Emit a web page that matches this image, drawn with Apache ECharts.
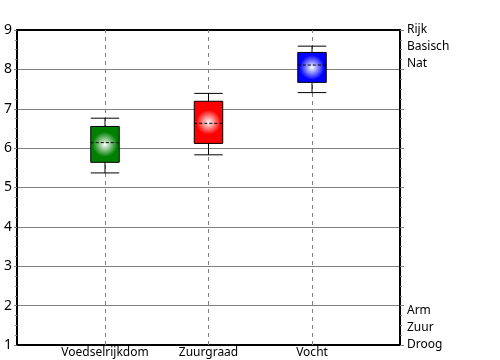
<!DOCTYPE html>
<html>
<head>
<meta charset="utf-8">
<script src="https://cdn.jsdelivr.net/npm/echarts@6/dist/echarts.min.js"></script>
<style>html,body{margin:0;padding:0;background:#fff}#c{width:500px;height:360px}</style>
</head>
<body>
<div id="c"></div>
<script>
const categories = ['Voedselrijkdom', 'Zuurgraad', 'Vocht'];
const categoryPos = [1, 2, 3];
const whiskerLow = [5.37, 5.83, 7.41];
const q1 = [5.64, 6.12, 7.67];
const median = [6.14, 6.63, 8.11];
const q3 = [6.55, 7.19, 8.43];
const whiskerHigh = [6.76, 7.39, 8.59];
const yTicks = [1, 2, 3, 4, 5, 6, 7, 8, 9];
const topRightLabels = ['Rijk', 'Basisch', 'Nat'];
const bottomRightLabels = ['Arm', 'Zuur', 'Droog'];

const boxColors = ['#008000', '#ff0000', '#0000ff'];
const FONT = 'Noto Sans';

const chart = echarts.init(document.getElementById('c'));

const boxData = categoryPos.map((x, i) => [x, whiskerLow[i], q1[i], median[i], q3[i], whiskerHigh[i]]);

function renderBox(params, api) {
  const x = api.value(0);
  const pLow = api.coord([x, api.value(1)]);
  const pQ1 = api.coord([x, api.value(2)]);
  const pMed = api.coord([x, api.value(3)]);
  const pQ3 = api.coord([x, api.value(4)]);
  const pHigh = api.coord([x, api.value(5)]);
  const w = api.size([0.275, 0])[0];
  const cx = pMed[0];
  const color = boxColors[params.dataIndex];
  const line = {stroke: '#000', lineWidth: 1};
  return {
    type: 'group',
    children: [
      {type: 'line', shape: {x1: cx, y1: pLow[1], x2: cx, y2: pQ1[1]}, style: line},
      {type: 'line', shape: {x1: cx, y1: pQ3[1], x2: cx, y2: pHigh[1]}, style: line},
      {type: 'line', shape: {x1: cx - w / 2, y1: pLow[1], x2: cx + w / 2, y2: pLow[1]}, style: line},
      {type: 'line', shape: {x1: cx - w / 2, y1: pHigh[1], x2: cx + w / 2, y2: pHigh[1]}, style: line},
      {type: 'rect', shape: {x: cx - w / 2, y: pQ3[1], width: w, height: pQ1[1] - pQ3[1]},
        style: {
          fill: new echarts.graphic.RadialGradient(0.5, 0.5, 0.6, [
            {offset: 0, color: '#ffffff'},
            {offset: 0.7, color: color},
            {offset: 1, color: color}
          ]),
          stroke: '#000', lineWidth: 1
        }},
      {type: 'line', shape: {x1: cx - w / 2, y1: pMed[1], x2: cx + w / 2, y2: pMed[1]},
        style: {stroke: '#000', lineWidth: 1, lineDash: [3, 2]}}
    ]
  };
}

const labelStyle = {fontFamily: FONT, fontSize: 14, color: '#000'};

chart.setOption({
  animation: false,
  grid: {left: 17, right: 100, top: 30, bottom: 15, outerBoundsMode: 'none', containLabel: false},
  xAxis: [{
    type: 'value', min: 0.15, max: 3.85,
    axisLine: {show: true, onZero: false, lineStyle: {color: '#000', width: 2}},
    axisTick: {show: false},
    splitLine: {show: false},
    axisLabel: {
      customValues: categoryPos, margin: 2,
      formatter: v => categories[categoryPos.indexOf(Math.round(v))] || '',
      ...labelStyle, fontSize: 12
    }
  }, {
    type: 'value', min: 0.15, max: 3.85, position: 'top',
    axisLine: {show: true, onZero: false, lineStyle: {color: '#000', width: 2}},
    axisTick: {show: false}, splitLine: {show: false}, axisLabel: {show: false}
  }],
  yAxis: [{
    type: 'value', min: 1, max: 9, interval: 1,
    axisLine: {show: true, onZero: false, lineStyle: {color: '#000', width: 2}},
    axisTick: {show: true, length: 3, lineStyle: {color: '#808080'}},
    minorTick: {show: true, splitNumber: 4, length: 2, lineStyle: {color: '#808080'}},
    splitLine: {show: true, lineStyle: {color: '#808080', width: 1}},
    axisLabel: {margin: 5, ...labelStyle}
  }, {
    type: 'value', min: 1, max: 9, interval: 1, position: 'right',
    axisLine: {show: true, onZero: false, lineStyle: {color: '#000', width: 2}},
    axisTick: {show: true, length: 4, lineStyle: {color: '#808080'}},
    minorTick: {show: true, splitNumber: 4, length: 2, lineStyle: {color: '#808080'}},
    splitLine: {show: false},
    axisLabel: {
      margin: 7, ...labelStyle, fontSize: 12, lineHeight: 17,
      formatter: v => {
        if (v === yTicks[yTicks.length - 1]) return '\n\n' + topRightLabels.join('\n');
        if (v === yTicks[0]) return bottomRightLabels.join('\n') + '\n\n';
        return '';
      }
    }
  }],
  series: [{
    type: 'custom',
    renderItem: renderBox,
    encode: {x: 0, y: [1, 2, 3, 4, 5]},
    data: boxData,
    z: 10,
    markLine: {
      silent: true, symbol: 'none', label: {show: false},
      lineStyle: {color: '#808080', type: [4, 4], width: 1},
      data: categoryPos.map(v => ({xAxis: v}))
    }
  }]
});
</script>
</body>
</html>
